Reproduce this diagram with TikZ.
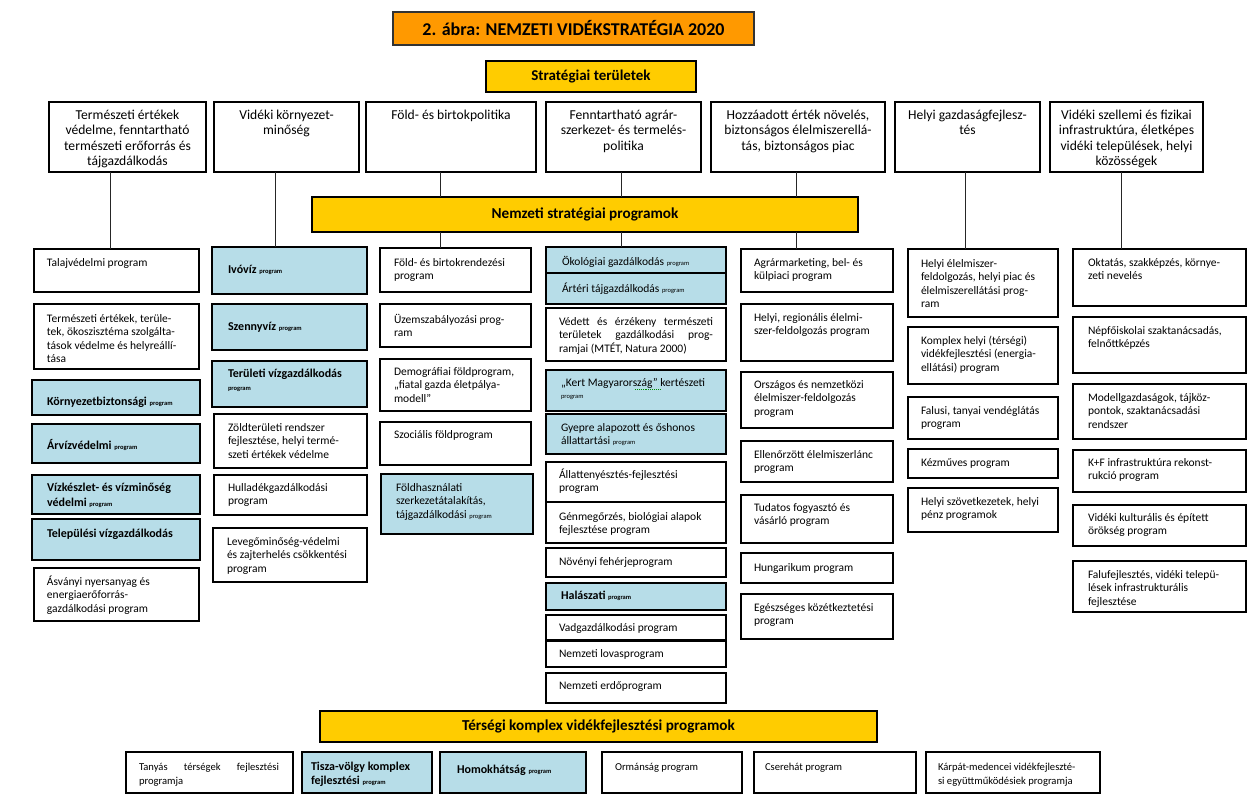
\documentclass[tikz,border=0pt]{standalone}
\usepackage{fontspec}
\setmainfont{Carlito}
\usetikzlibrary{shadows}
\definecolor{orng}{HTML}{FF9900}
\definecolor{ylw}{HTML}{FFCC00}
\definecolor{lblue}{HTML}{B7DDE8}
\tikzset{
  plainbox/.style={draw=black, line width=1.1pt, fill=white, inner sep=0pt, outer sep=0pt, anchor=north west},
  bluebox/.style={plainbox, fill=lblue, drop shadow={shadow xshift=1.2pt, shadow yshift=-1.2pt, fill=black!55, opacity=0.8}},
  barbox/.style={draw=black, line width=1.1pt, fill=ylw, inner sep=0pt, outer sep=0pt, anchor=north west, font=\fontsize{15.2}{17}\selectfont\bfseries},
  titlebox/.style={barbox, fill=orng, draw=black!80, font=\fontsize{18}{20}\selectfont\bfseries},
  conn/.style={line width=1pt, draw=black!85},
}
\newcommand\prg{{\fontsize{6.5}{8}\selectfont program}}
\newcommand\bld{\fontsize{12}{15}\selectfont\bfseries}
\newcommand\botf{\fontsize{10.6}{14.5}\selectfont}
% #1 style, #2 name, #3 x1, #4 y1, #5 x2, #6 y2, #7 first baseline, #8 left pad, #9 text
\newcommand\bx[9][plainbox]{%
  \node[#1] (#2) at (#3,#4) {\parbox[b][\dimexpr#6pt-#4pt\relax][t]{\dimexpr#5pt-#3pt\relax}{%
    \fontsize{11.5}{13.5}\selectfont\raggedright\leftskip=#8pt\rightskip=2pt plus 3em\relax
    \vspace*{\dimexpr#7pt-9.45pt\relax}\leavevmode\strut#9\par}};}
% top boxes: #1 name, #2 x1, #3 y1, #4 x2, #5 y2, #6 text
\newcommand\tbx[6]{%
  \node[plainbox] (#1) at (#2,#3) {\parbox[b][\dimexpr#5pt-#3pt\relax][t]{\dimexpr#4pt-#2pt\relax}{%
    \fontsize{13.6}{15.5}\selectfont\centering
    \vspace*{\dimexpr17pt-10.85pt\relax}\leavevmode\strut#6\par}};}
\begin{document}
\begin{tikzpicture}[x=1pt, y=-1pt]
\useasboundingbox (0,0) rectangle (1256,808);
\fill[white] (0,0) rectangle (1256,808);

% headings
\node[titlebox, minimum width=361pt, minimum height=33pt] (title) at (393,12) {2. ábra: NEMZETI VIDÉKSTRATÉGIA 2020};
\node[barbox, minimum width=210pt, minimum height=31pt, font=\fontsize{15}{17}\selectfont\bfseries] (strat) at (486,61) {Stratégiai területek};

% strategic areas
\tbx{t1}{49}{102}{206}{172}{Természeti értékek\\védelme, fenntartható\\természeti erőforrás és\\tájgazdálkodás}
\tbx{t2}{214}{102}{359}{172}{Vidéki környezet-\\minőség}
\tbx{t3}{366}{102}{536}{172}{Föld- és birtokpolitika}
\tbx{t4}{546}{102}{701}{172}{Fenntartható agrár-\\szerkezet- és termelés-\\politika}
\tbx{t5}{711}{102}{885}{172}{Hozzáadott érték növelés,\\biztonságos élelmiszerellá-\\tás, biztonságos piac}
\tbx{t6}{895}{102}{1040}{172}{Helyi gazdaságfejlesz-\\tés}
\tbx{t7}{1050}{102}{1203}{172}{Vidéki szellemi és fizikai\\infrastruktúra, életképes\\vidéki települések, helyi\\közösségek}

\node[barbox, minimum width=546pt, minimum height=35pt] (nsp) at (312,197) {Nemzeti stratégiai programok};

% column 1
\bx{p1a}{34}{249}{199}{292}{17}{13}{Talajvédelmi program}
\bx{p1b}{34}{304}{199}{369}{18}{13}{Természeti értékek, terüle-\\tek, ökoszisztéma szolgálta-\\tások védelme és helyreállí-\\tása}
\bx[bluebox]{p1c}{32}{380}{200}{415}{25}{15}{\bld Környezetbiztonsági \prg}
\bx[bluebox]{p1d}{32}{424}{200}{463}{25}{15}{\bld Árvízvédelmi \prg}
\bx[bluebox]{p1e}{32}{475}{200}{514}{16}{15}{\bld Vízkészlet- és vízminőség\\védelmi \prg}
\bx[bluebox]{p1f}{32}{519}{200}{560}{18}{15}{\bld Települési vízgazdálkodás}
\bx{p1g}{34}{568}{199}{621}{17}{13}{Ásványi nyersanyag és\\energiaerőforrás-\\gazdálkodási program}

% column 2
\bx[bluebox]{p2a}{212}{247}{367}{294}{26}{16}{\bld Ivóvíz \prg}
\bx[bluebox]{p2b}{212}{304}{367}{350}{26}{16}{\bld Szennyvíz \prg}
\bx[bluebox]{p2c}{212}{361}{367}{407}{16}{16}{\bld Területi vízgazdálkodás\\[-2pt]\prg}
\bx{p2d}{214}{414}{367}{468}{17}{14}{Zöldterületi rendszer\\fejlesztése, helyi termé-\\szeti értékek védelme}
\bx{p2e}{214}{475}{367}{515}{16}{14}{Hulladékgazdálkodási\\program}
\bx{p2f}{213}{528}{367}{582}{17}{14}{Levegőminőség-védelmi\\és zajterhelés csökkentési\\program}

% column 3
\bx{p3a}{380}{248}{531}{292}{18}{14}{Föld- és birtokrendezési\\program}
\bx{p3b}{380}{304}{531}{347}{19}{14}{Üzemszabályozási prog-\\ram}
\bx{p3c}{380}{359}{531}{411}{16}{14}{Demográfiai földprogram,\\„fiatal gazda életpálya-\\modell”}
\bx{p3d}{380}{422}{531}{465}{16}{14}{Szociális földprogram}
\bx[bluebox]{p3e}{381}{474}{533}{534}{17}{15}{Földhasználati\\szerkezetátalakítás,\\tájgazdálkodási \prg}

% column 4
\bx[bluebox]{p4a}{546}{247}{726}{273}{18}{16}{Ökológiai gazdálkodás \prg}
\bx[bluebox]{p4b}{546}{273}{726}{304}{19}{16}{Ártéri tájgazdálkodás \prg}
\bx{p4c}{546}{308}{726}{361}{17}{13}{\makebox[154pt][s]{Védett és érzékeny természeti}\\\makebox[154pt][s]{területek gazdálkodási prog-}\\ramjai (MTÉT, Natura 2000)}
\bx[bluebox]{p4d}{546}{370}{726}{411}{16}{15}{„Kert Magyarország” kertészeti\\[-1pt]\prg}
\bx[bluebox]{p4e}{546}{414}{726}{454}{17}{15}{Gyepre alapozott és őshonos\\állattartási \prg}
\bx{p4f}{546}{462}{726}{502}{16}{13}{Állattenyésztés-fejlesztési\\program}
\bx{p4g}{546}{502}{726}{543}{18}{13}{Génmegőrzés, biológiai alapok\\fejlesztése program}
\bx{p4h}{546}{548}{726}{577}{17}{13}{Növényi fehérjeprogram}
\bx[bluebox]{p4i}{546}{583}{726}{610}{16}{15}{\bld Halászati \prg}
\bx{p4j}{546}{615}{726}{640}{16}{13}{Vadgazdálkodási program}
\bx{p4k}{546}{641}{726}{667}{16}{13}{Nemzeti lovasprogram}
\bx{p4l}{546}{673}{726}{703}{16}{13}{Nemzeti erdőprogram}
\draw[green!55!black, densely dotted, line width=0.9pt] ([shift={(89,19)}]p4d.north west) -- ([shift={(115,19)}]p4d.north west);

% column 5
\bx{p5a}{741}{249}{893}{292}{17}{13}{Agrármarketing, bel- és\\külpiaci program}
\bx{p5b}{741}{304}{893}{361}{17}{13}{Helyi, regionális élelmi-\\szer-feldolgozás program}
\bx{p5c}{741}{372}{893}{428}{16}{13}{Országos és nemzetközi\\élelmiszer-feldolgozás\\program}
\bx{p5d}{741}{441}{893}{482}{17}{13}{Ellenőrzött élelmiszerlánc\\program}
\bx{p5e}{741}{495}{893}{543}{16}{13}{Tudatos fogyasztó és\\vásárló program}
\bx{p5f}{741}{553}{893}{583}{18}{13}{Hungarikum program}
\bx{p5g}{741}{594}{893}{639}{17}{13}{Egészséges közétkeztetési\\program}

% column 6
\bx{p6a}{908}{249}{1058}{317}{18}{13}{Helyi élelmiszer-\\feldolgozás, helyi piac és\\élelmiszerellátási prog-\\ram}
\bx{p6b}{908}{327}{1058}{384}{17}{13}{Komplex helyi (térségi)\\vidékfejlesztési (energia-\\ellátási) program}
\bx{p6c}{908}{397}{1058}{439}{17}{13}{Falusi, tanyai vendéglátás\\program}
\bx{p6d}{908}{449}{1058}{478}{17}{13}{Kézműves program}
\bx{p6e}{908}{488}{1058}{532}{17}{13}{Helyi szövetkezetek, helyi\\pénz programok}

% column 7
\bx{p7a}{1073}{249}{1246}{306}{17}{15}{Oktatás, szakképzés, környe-\\zeti nevelés}
\bx{p7b}{1073}{317}{1246}{373}{17}{15}{Népfőiskolai szaktanácsadás,\\felnőttképzés}
\bx{p7c}{1073}{384}{1246}{439}{17}{15}{Modellgazdaságok, tájköz-\\pontok, szaktanácsadási\\rendszer}
\bx{p7d}{1073}{450}{1246}{492}{16}{15}{K+F infrastruktúra rekonst-\\rukció program}
\bx{p7e}{1073}{505}{1246}{546}{16}{15}{Vidéki kulturális és épített\\örökség program}
\bx{p7f}{1073}{561}{1246}{612}{17}{15}{Falufejlesztés, vidéki telepü-\\lések infrastrukturális\\fejlesztése}

% regional programmes
\node[barbox, minimum width=557pt, minimum height=31pt] (reg) at (320,711) {Térségi komplex vidékfejlesztési programok};
\bx{r1}{126}{752}{293}{793}{18}{13}{\botf\makebox[140pt][s]{Tanyás térségek fejlesztési}\\programja}
\bx[bluebox]{r2}{302}{752}{432}{793}{18}{9}{\bld Tisza-völgy komplex\\[-1pt]fejlesztési \prg}
\bx[bluebox]{r3}{440}{752}{586}{793}{21}{17}{\bld Homokhátság \prg}
\bx{r4}{602}{752}{742}{793}{18}{13}{\botf Ormánság program}
\bx{r5}{754}{752}{916}{793}{18}{11}{\botf Cserehát program}
\bx{r6}{926}{752}{1100}{793}{18}{12}{\botf Kárpát-medencei vidékfejleszté-\\si együttműködésiek programja}

% connectors
\coordinate (x1) at (110,0);
\coordinate (x2) at (275,0);
\coordinate (x3) at (440,0);
\coordinate (x4) at (621,0);
\coordinate (x5) at (796,0);
\coordinate (x6) at (965,0);
\coordinate (x7) at (1121,0);
\draw[conn] (t1.south -| x1) -- (p1a.north -| x1);
\draw[conn] (t2.south -| x2) -- (p2a.north -| x2);
\draw[conn] (t3.south -| x3) -- (nsp.north -| x3);
\draw[conn] (nsp.south -| x3) -- (p3a.north -| x3);
\draw[conn] (t4.south -| x4) -- (nsp.north -| x4);
\draw[conn] (nsp.south -| x4) -- (p4a.north -| x4);
\draw[conn] (t5.south -| x5) -- (nsp.north -| x5);
\draw[conn] (nsp.south -| x5) -- (p5a.north -| x5);
\draw[conn] (t6.south -| x6) -- (p6a.north -| x6);
\draw[conn] (t7.south -| x7) -- (p7a.north -| x7);
\end{tikzpicture}
\end{document}
